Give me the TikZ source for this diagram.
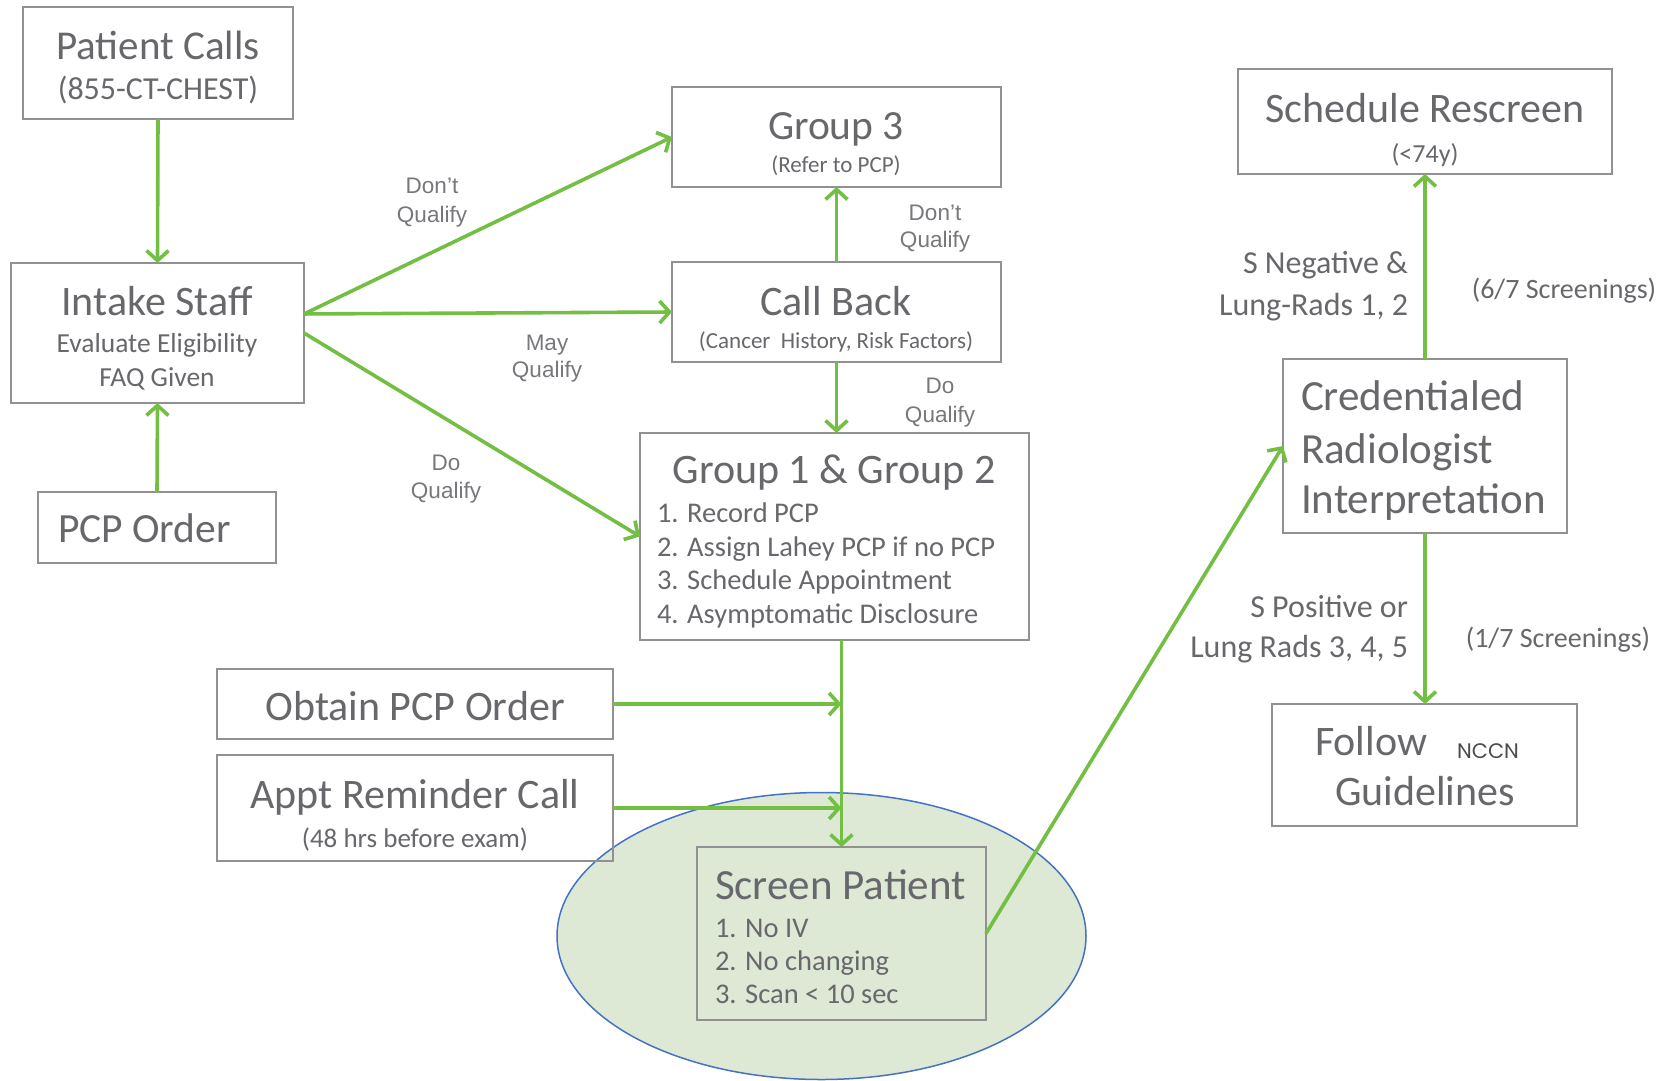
\documentclass[tikz,border=0pt]{standalone}
\usepackage{fontspec}
\setmainfont{Carlito}
\newfontfamily\lblfont{Liberation Sans}
\newfontfamily\nccnfont{Poppins}
\usetikzlibrary{arrows.meta,calc}
\definecolor{flowgreen}{RGB}{114,191,68}
\definecolor{txtgray}{RGB}{104,104,108}
\definecolor{lblgray}{RGB}{120,120,124}
\definecolor{boxgray}{RGB}{145,145,148}
\definecolor{ellfill}{RGB}{221,232,213}
\definecolor{ellblue}{RGB}{68,114,196}
\newcommand\fsz[1]{\fontsize{#1}{#1}\selectfont}
\begin{document}
\begin{tikzpicture}[x=1pt,y=-1pt,
  box/.style={draw=boxgray,line width=2pt,inner sep=0pt,outer sep=0pt},
  tx/.style={inner sep=0pt,outer sep=0pt,anchor=base,text=txtgray},
  txl/.style={tx,anchor=base west},
  txr/.style={tx,anchor=base east},
  lbl/.style={inner sep=0pt,anchor=base,text=lblgray,font=\lblfont\fsz{22.5}},
  arr/.style={draw=flowgreen,line width=3.6pt,-{Straight Barb[length=10pt,width=22pt]}}]
\useasboundingbox (0,0) rectangle (1671,1080);
\fill[white] (0,0) rectangle (1671,1080);

% highlight ellipse
\draw[fill=ellfill,draw=ellblue,line width=1.5pt] (821.5,936) ellipse [x radius=264.5pt, y radius=143.5pt];

% boxes
\node[box,minimum width=270pt,minimum height=112pt] (pc) at (158,63) {};
\node[box,minimum width=293pt,minimum height=140pt] (is) at (157.5,333) {};
\node[box,minimum width=238pt,minimum height=71pt] (po) at (157,527.5) {};
\node[box,minimum width=329pt,minimum height=100pt] (g3) at (836.5,137) {};
\node[box,minimum width=329pt,minimum height=100pt] (cb) at (836.5,312) {};
\node[box,minimum width=389pt,minimum height=207pt] (g12) at (834.5,536.5) {};
\node[box,minimum width=396pt,minimum height=70pt] (ob) at (415,704) {};
\node[box,minimum width=396pt,minimum height=106pt] (ap) at (415,808) {};
\node[box,minimum width=289pt,minimum height=173pt] (sp) at (841.5,933.5) {};
\node[box,minimum width=374pt,minimum height=105pt] (sr) at (1425,121.5) {};
\node[box,minimum width=284pt,minimum height=174pt] (cr) at (1425,446) {};
\node[box,minimum width=305pt,minimum height=122pt] (fo) at (1424.5,765) {};

% texts
\node[tx,font=\fsz{41}] (pc1) at (158,59) {Patient Calls};
\node[tx,font=\fsz{32}] (pc2) at (158,99) {(855-CT-CHEST)};
\node[tx,font=\fsz{42}] (is1) at (157,315) {Intake Staff};
\node[tx,font=\fsz{27.5}] (is2) at (157,352) {Evaluate Eligibility};
\node[tx,font=\fsz{27.5}] (is3) at (157,386) {FAQ Given};
\node[txl,font=\fsz{41.5}] (po1) at (58,542) {PCP Order};
\node[tx,font=\fsz{41.5}] (g31) at (836,139) {Group 3};
\node[tx,font=\fsz{23}] (g32) at (836,172) {(Refer to PCP)};
\node[tx,font=\fsz{42}] (cb1) at (836,315) {Call Back};
\node[tx,font=\fsz{23}] (cb2) at (836,348) {(Cancer\ \ History, Risk Factors)};
\node[tx,font=\fsz{42}] (g121) at (834,483) {Group 1 \& Group 2};
\node[txl,font=\fsz{28.5}] (g122) at (657,522) {1. Record PCP};
\node[txl,font=\fsz{28.5}] (g123) at (657,556) {2. Assign Lahey PCP if no PCP};
\node[txl,font=\fsz{28.5}] (g124) at (657,589) {3. Schedule Appointment};
\node[txl,font=\fsz{28.5}] (g125) at (657,623) {4. Asymptomatic Disclosure};
\node[tx,font=\fsz{42}] (ob1) at (415,720) {Obtain PCP Order};
\node[tx,font=\fsz{42}] (ap1) at (415,808) {Appt Reminder Call};
\node[tx,font=\fsz{27}] (ap2) at (415,847) {(48 hrs before exam)};
\node[txl,font=\fsz{43}] (sp1) at (715,899) {Screen Patient};
\node[txl,font=\fsz{28.5}] (sp2) at (715,937) {1. No IV};
\node[txl,font=\fsz{28.5}] (sp3) at (715,970) {2. No changing};
\node[txl,font=\fsz{28.5}] (sp4) at (715,1003) {3. Scan < 10 sec};
\node[tx,font=\fsz{42}] (sr1) at (1425,122) {Schedule Rescreen};
\node[tx,font=\fsz{26}] (sr2) at (1425,162) {(<74y)};
\node[txl,font=\fsz{43}] (cr1) at (1301,410) {Credentialed};
\node[txl,font=\fsz{43}] (cr2) at (1301,463) {Radiologist};
\node[txl,font=\fsz{43}] (cr3) at (1301,513) {Interpretation};
\node[txl,font=\fsz{42}] (fo1) at (1315,755) {Follow};
\node[tx,font=\nccnfont\fsz{21},text=black!70] (fo2) at (1488,758) {NCCN};
\node[txl,font=\fsz{42}] (fo3) at (1335,805) {Guidelines};

% edge labels
\node[lbl] (l1a) at (432,193) {Don’t};
\node[lbl] (l1b) at (432,222) {Qualify};
\node[lbl] (l2a) at (547,350) {May};
\node[lbl] (l2b) at (547,377) {Qualify};
\node[lbl] (l3a) at (446,470) {Do};
\node[lbl] (l3b) at (446,498) {Qualify};
\node[lbl] (l4a) at (935,220) {Don’t};
\node[lbl] (l4b) at (935,247) {Qualify};
\node[lbl] (l5a) at (940,393) {Do};
\node[lbl] (l5b) at (940,422) {Qualify};
\node[txr,font=\fsz{32}] (r1a) at (1408,273) {S Negative \&};
\node[txr,font=\fsz{32}] (r1b) at (1408,315) {Lung-Rads 1, 2};
\node[tx,font=\fsz{28}] (r1c) at (1564,298) {(6/7 Screenings)};
\node[txr,font=\fsz{32}] (r2a) at (1408,617) {S Positive or};
\node[txr,font=\fsz{32}] (r2b) at (1408,657) {Lung Rads 3, 4, 5};
\node[tx,font=\fsz{28}] (r2c) at (1558,647) {(1/7 Screenings)};

% connectors
\coordinate (isup) at ($(is.north east)!0.364!(is.south east)$);
\draw[arr] (pc.south) -- (is.north);
\draw[arr] (po.north) -- (is.south);
\draw[arr] (isup) -- (g3.west);
\draw[arr] (isup) -- (cb.west);
\draw[arr] (is.east) -- (g12.west);
\draw[arr] (cb.north) -- (g3.south);
\draw[arr] (cb.south) -- (cb.south |- g12.north);
\draw[arr] (sp.north |- g12.south) -- (sp.north);
\draw[arr] (ob.east) -- (ob.east -| sp.north);
\draw[arr] (ap.east) -- (ap.east -| sp.north);
\draw[arr] (sp.east) -- (cr.west);
\draw[arr] (cr.north) -- (cr.north |- sr.south);
\draw[arr] (cr.south) -- (cr.south |- fo.north);
\end{tikzpicture}
\end{document}
